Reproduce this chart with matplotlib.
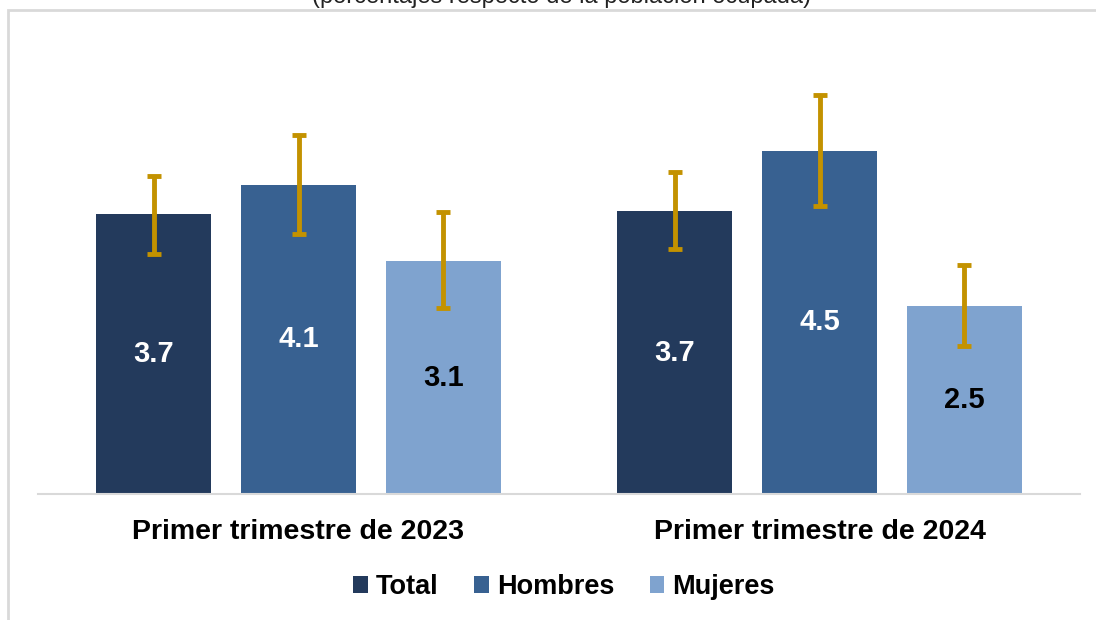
import numpy as np
import matplotlib.pyplot as plt
from matplotlib.patches import Rectangle

plt.rcParams['font.family'] = ['Liberation Sans', 'DejaVu Sans']

periods = ["Primer trimestre de 2023", "Primer trimestre de 2024"]
series = ["Total", "Hombres", "Mujeres"]
values = {
    "Total": [3.70, 3.74],
    "Hombres": [4.09, 4.54],
    "Mujeres": [3.08, 2.49],
}
lower = {
    "Total": [3.17, 3.24],
    "Hombres": [3.44, 3.81],
    "Mujeres": [2.46, 1.96],
}
upper = {
    "Total": [4.21, 4.26],
    "Hombres": [4.74, 5.28],
    "Mujeres": [3.73, 3.03],
}
colors = {"Total": "#233A5C", "Hombres": "#386191", "Mujeres": "#7FA3CF"}
label_colors = {"Total": "white", "Hombres": "white", "Mujeres": "black"}
err_color = "#C39200"

W, H = 1096, 620
fig = plt.figure(figsize=(W / 100, H / 100), dpi=100)

# light frame around the chart area
fig.patches.append(Rectangle((8 / W, -0.05), 1.1, 1 - 10 / H + 0.05,
                             transform=fig.transFigure, fill=False,
                             edgecolor="#D9D9D9", lw=2))

ax = fig.add_axes([38 / W, 1 - 494 / H, (1080 - 38) / W, (494 - 78) / H])

x = np.arange(len(periods))
step = 0.278
width = 0.221
for i, s in enumerate(series):
    xs = x + (i - 1) * step
    v = np.array(values[s])
    ax.bar(xs, v, width, color=colors[s], label=s, zorder=2)
    yerr = np.vstack([v - np.array(lower[s]), np.array(upper[s]) - v])
    ax.errorbar(xs, v, yerr=yerr, fmt="none", ecolor=err_color,
                elinewidth=3.5, capsize=5, capthick=3.5, zorder=3)
    for xi, vi in zip(xs, v):
        ax.text(xi, vi / 2, f"{vi:.1f}", ha="center", va="center",
                color=label_colors[s], fontsize=21, fontweight="bold", zorder=4)

ax.set_xlim(-0.5, 1.5)
ax.set_ylim(0, 5.5)
ax.set_yticks([])
ax.set_xticks(x)
ax.set_xticklabels(periods, fontsize=20.5, fontweight="bold")
ax.tick_params(axis="x", length=0, pad=18)
for sp in ["top", "right", "left"]:
    ax.spines[sp].set_visible(False)
ax.spines["bottom"].set_color("#D9D9D9")
ax.spines["bottom"].set_linewidth(1.5)

fig.legend(loc="center", bbox_to_anchor=(564 / W, 1 - 587 / H), ncol=3,
           frameon=False, prop={"size": 19.5, "weight": "bold"},
           handlelength=0.55, handleheight=0.6, handletextpad=0.3,
           columnspacing=1.3)

fig.text(561 / W, 1 - 3 / H, "(porcentajes respecto de la población ocupada)",
         ha="center", va="baseline", fontsize=17, color="#222222")

fig.savefig("out.png", dpi=100)
